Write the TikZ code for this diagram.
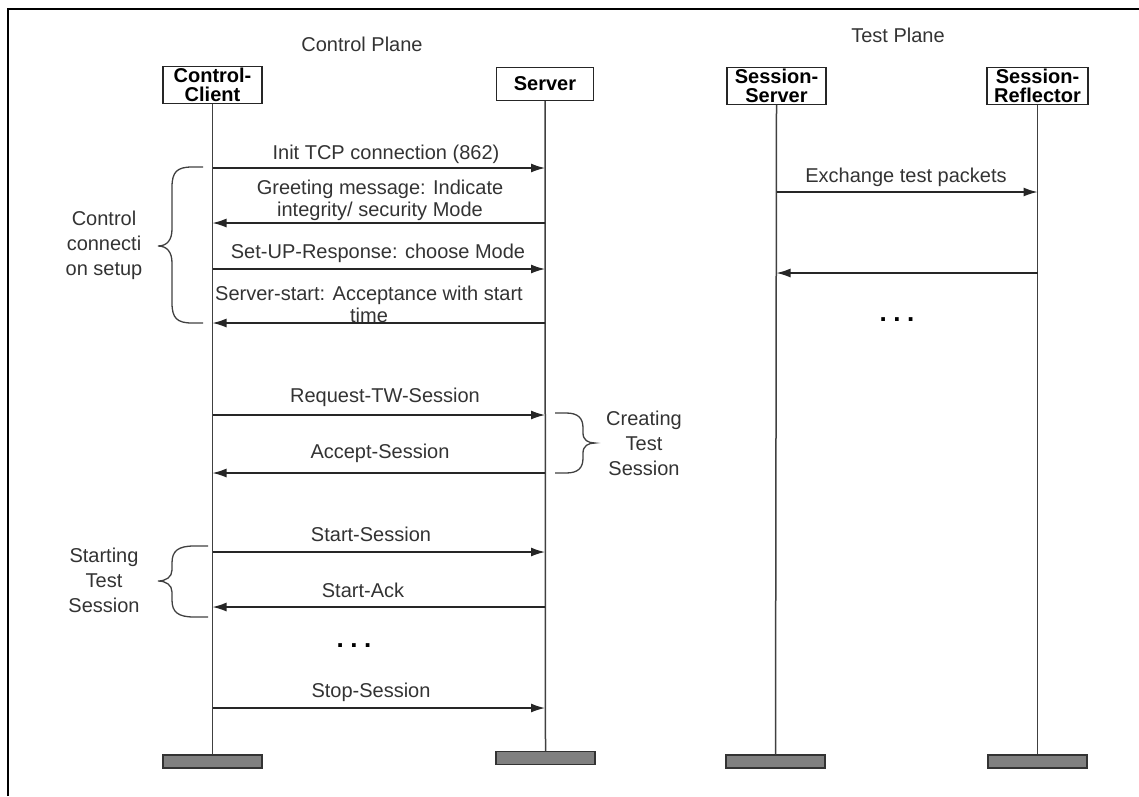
\documentclass[tikz,border=0pt]{standalone}
\usepackage{fontspec}
\setmainfont{Liberation Sans}
\usetikzlibrary{arrows.meta}
\begin{document}
\begin{tikzpicture}[x=1pt,y=-1pt,
  lbl/.style={font=\fontsize{20}{22}\selectfont, text=black!80, inner sep=0pt, align=center},
  blbl/.style={font=\fontsize{20}{25}\selectfont, text=black!80, inner sep=0pt, align=center},
  actor/.style={draw=black!85, line width=1.2pt, fill=white, font=\bfseries\fontsize{20}{18.5}\selectfont, align=center, inner sep=0pt, minimum width=99pt, minimum height=37pt},
  life/.style={draw=black!75, line width=1.5pt},
  msg/.style={draw=black!85, line width=1.4pt, -{Latex[length=14pt,width=9pt]}},
  bar/.style={draw=black!80, fill=black!50, line width=1.2pt, minimum width=99pt, minimum height=13pt, inner sep=0pt},
  brace/.style={draw=black!75, line width=1.3pt},
  dots/.style={font=\bfseries\fontsize{26}{26}\selectfont, text=black, inner sep=0pt}
]
\useasboundingbox (0,0) rectangle (1139,796);
% frame
\draw[line width=2.5pt] (8,796) -- (8,9) -- (1139,9);

% titles
\node[lbl] (cptitle) at (362,44) {Control Plane};
\node[lbl] (tptitle) at (898,35) {Test Plane};

% actors
\node[actor] (cc) at (212.5,85) {Control-\\Client};
\node[actor, minimum width=97pt, minimum height=33pt] (sv) at (545,84) {Server};
\node[actor] (ss) at (776.5,86) {Session-\\Server};
\node[actor, minimum width=101pt] (sr) at (1037.5,86) {Session-\\Reflector};

% bottom bars
\node[bar] (bcc) at (212.5,761.5) {};
\node[bar] (bsv) at (545.5,758) {};
\node[bar] (bss) at (775.5,761.5) {};
\node[bar] (bsr) at (1037.5,761.5) {};

% lifelines
\draw[life] (cc.south) -- (bcc.north);
\draw[life] (sv.south) -- (bsv.north);
\draw[life] (ss.south) -- (bss.north);
\draw[life] (sr.south) -- (bsr.north);

% message heights
\coordinate (y1) at (0,168);
\coordinate (y2) at (0,223);
\coordinate (y3) at (0,269);
\coordinate (y4) at (0,323);
\coordinate (y5) at (0,415);
\coordinate (y6) at (0,473);
\coordinate (y7) at (0,552);
\coordinate (y8) at (0,607);
\coordinate (y9) at (0,708);
\coordinate (t1) at (0,192);
\coordinate (t2) at (0,273);

% control plane messages
\draw[msg] (cc |- y1) -- (sv |- y1);
\node[lbl] (l1) at (386,154) {Init TCP connection (862)};
\draw[msg] (sv |- y2) -- (cc |- y2);
\node[lbl] (l2) at (380,200) {Greeting message: Indicate\\integrity/ security Mode};
\draw[msg] (cc |- y3) -- (sv |- y3);
\node[lbl] (l3) at (378,253) {Set-UP-Response: choose Mode};
\draw[msg] (sv |- y4) -- (cc |- y4);
\node[lbl] (l4) at (369,304) {Server-start: Acceptance with start\\time};
\draw[msg] (cc |- y5) -- (sv |- y5);
\node[lbl] (l5) at (385,397) {Request-TW-Session};
\draw[msg] (sv |- y6) -- (cc |- y6);
\node[lbl] (l6) at (380,453) {Accept-Session};
\draw[msg] (cc |- y7) -- (sv |- y7);
\node[lbl] (l7) at (371,534) {Start-Session};
\draw[msg] (sv |- y8) -- (cc |- y8);
\node[lbl] (l8) at (363,590) {Start-Ack};
\node[dots] (d1) at (354,646) {.\hspace{6.5pt}.\hspace{6.5pt}.};
\draw[msg] (cc |- y9) -- (sv |- y9);
\node[lbl] (l9) at (371,692) {Stop-Session};

% test plane messages
\draw[msg] (ss |- t1) -- (sr |- t1);
\node[lbl] (l10) at (906,177) {Exchange test packets};
\draw[msg] (sr |- t2) -- (ss |- t2);
\node[dots] (d2) at (897,320) {.\hspace{6.5pt}.\hspace{6.5pt}.};

% braces
\draw[brace] (203,167) -- (192,167) .. controls (177,167) and (172,172) .. (172,187)
  -- (172,229) .. controls (172,240) and (167,246) .. (158,246)
  .. controls (167,246) and (172,252) .. (172,263)
  -- (172,303) .. controls (172,318) and (177,323) .. (192,323) -- (203,323);
\node[blbl] (b1) at (104,245) {Control\\connecti\\on setup};

\draw[brace] (555,413) -- (566,413) .. controls (578,413) and (583,418) .. (583,428)
  -- (583,433) .. controls (583,440) and (588,443) .. (595,443)
  .. controls (588,443) and (583,446) .. (583,453)
  -- (583,458) .. controls (583,468) and (578,473) .. (566,473) -- (555,473);
\node[blbl] (b2) at (644,443) {Creating\\Test\\Session};

\draw[brace] (208,546) -- (194,546) .. controls (178,546) and (172,551) .. (172,563)
  -- (172,570) .. controls (172,577) and (166,581) .. (158,581)
  .. controls (166,581) and (172,585) .. (172,592)
  -- (172,600) .. controls (172,612) and (178,617) .. (194,617) -- (208,617);
\node[blbl] (b3) at (104,580) {Starting\\Test\\Session};
\end{tikzpicture}
\end{document}
